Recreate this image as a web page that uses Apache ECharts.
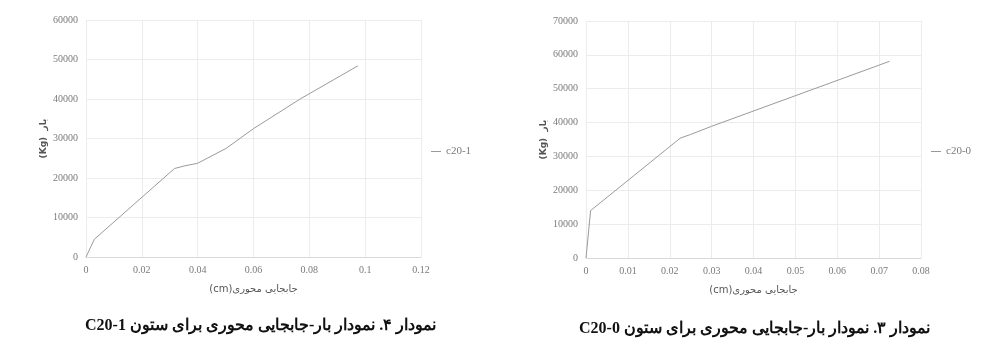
<!DOCTYPE html>
<html><head><meta charset="utf-8">
<script src="https://cdn.jsdelivr.net/npm/echarts@6/dist/echarts.min.js"></script>
<style>html,body{margin:0;padding:0;background:#fff}#c{width:986px;height:344px}</style>
</head><body><div id="c"></div>
<script>
// c20-1 (left chart): [displacement cm, load kg]
const c201Disp = [0, 0.003, 0.0317, 0.0355, 0.0399, 0.0502, 0.060, 0.0767, 0.0974];
const c201Load = [0, 4500, 22400, 23100, 23700, 27500, 32500, 40000, 48400];
// c20-0 (right chart)
const c200Disp = [0, 0.0011, 0.0225, 0.025, 0.030, 0.0725];
const c200Load = [0, 14000, 35400, 36500, 38900, 58100];

const leftCaption = 'C20-1 نمودار ۴. نمودار بار-جابجایی محوری برای ستون';
const rightCaption = 'C20-0 نمودار ۳. نمودار بار-جابجایی محوری برای ستون';
const xName = '(cm)جابجایی محوری';
const yName = '(Kg)  بار';

const serif = '"Liberation Serif","DejaVu Serif",serif';
const labelStyle = {color:'#7a7a7a', fontFamily:serif, fontSize:10};
function xAx(gi, max, interval){
  return {type:'value', gridIndex:gi, min:0, max:max, interval:interval,
    axisLine:{show:true, lineStyle:{color:'#d9d9d9'}}, axisTick:{show:false},
    splitLine:{show:true, lineStyle:{color:'#ececec'}},
    axisLabel:Object.assign({margin:8, formatter:v=>String(+v.toFixed(4))}, labelStyle),
    name:xName, nameLocation:'middle', nameGap:27,
    nameTextStyle:{color:'#555', fontSize:10, fontFamily:'"DejaVu Sans",sans-serif'}};
}
function yAx(gi, max){
  return {type:'value', gridIndex:gi, min:0, max:max, interval:10000,
    axisLine:{show:false}, axisTick:{show:false},
    splitLine:{show:true, lineStyle:{color:'#ececec'}},
    axisLabel:Object.assign({margin:8, formatter:v=>String(v)}, labelStyle),
    name:yName, nameLocation:'middle', nameGap:38, nameRotate:90,
    nameTextStyle:{color:'#555', fontSize:9, fontWeight:'bold', fontFamily:'"DejaVu Sans",sans-serif'}};
}
const chart = echarts.init(document.getElementById('c'));
chart.setOption({
  animation:false,
  backgroundColor:'#fff',
  grid:[{left:86, right:565, top:20, bottom:87},{left:586, right:65, top:21, bottom:86}],
  xAxis:[xAx(0,0.12,0.02), xAx(1,0.08,0.01)],
  yAxis:[yAx(0,60000), yAx(1,70000)],
  legend:[
    {data:['c20-1'], left:426, top:141, itemWidth:10, itemHeight:1, icon:'rect', itemGap:4,
     textStyle:Object.assign({}, labelStyle, {fontSize:11})},
    {data:['c20-0'], left:926, top:141, itemWidth:10, itemHeight:1, icon:'rect', itemGap:4,
     textStyle:Object.assign({}, labelStyle, {fontSize:11})}
  ],
  title:[
    {text:leftCaption, left:80, top:313, textStyle:{fontSize:16, fontWeight:'bold', color:'#111', fontFamily:serif}},
    {text:rightCaption, left:574, top:316, textStyle:{fontSize:16, fontWeight:'bold', color:'#111', fontFamily:serif}}
  ],
  series:[
    {name:'c20-1', type:'line', xAxisIndex:0, yAxisIndex:0, showSymbol:false,
     lineStyle:{color:'#9a9a9a', width:1}, itemStyle:{color:'#9a9a9a'},
     data:c201Disp.map((d,i)=>[d, c201Load[i]])},
    {name:'c20-0', type:'line', xAxisIndex:1, yAxisIndex:1, showSymbol:false,
     lineStyle:{color:'#9a9a9a', width:1}, itemStyle:{color:'#9a9a9a'},
     data:c200Disp.map((d,i)=>[d, c200Load[i]])}
  ]
});
</script></body></html>
